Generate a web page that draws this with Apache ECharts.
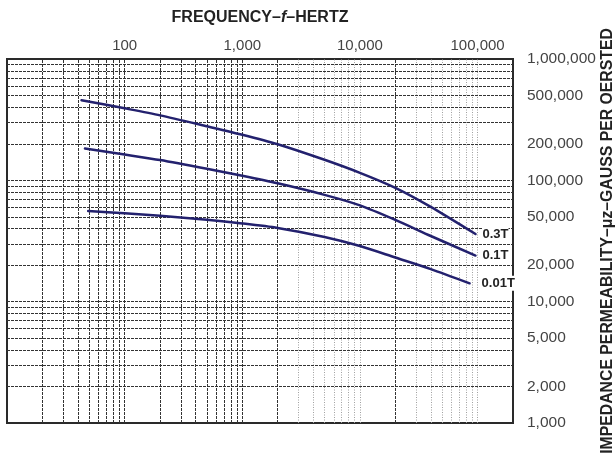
<!DOCTYPE html>
<html>
<head>
<meta charset="utf-8">
<script src="https://cdn.jsdelivr.net/npm/echarts@6/dist/echarts.min.js"></script>
<style>
html,body{margin:0;padding:0;background:#fff;}
#chart{width:615px;height:454px;}
</style>
</head>
<body>
<div id="chart"></div>
<script>
// ---- data (frequency in Hz, impedance permeability in gauss/oersted) ----
const freq03 = [43, 100, 200, 500, 1000, 2000, 5000, 10000, 20000, 40000, 96000];
const perm03 = [458000, 392000, 343000, 279000, 237700, 198400, 147700, 115300, 86700, 60400, 36100];
const freq01 = [46, 100, 200, 500, 1000, 2000, 5000, 10000, 20000, 40000, 96000];
const perm01 = [182800, 163100, 146900, 124500, 109000, 94500, 75900, 62150, 47170, 34780, 24000];
const freq001 = [49, 100, 200, 500, 1000, 2000, 5000, 10000, 20000, 40000, 85500];
const perm001 = [55760, 53570, 51090, 47340, 44120, 40490, 34130, 28750, 23100, 18560, 14170];
const seriesNames = ['0.3T', '0.1T', '0.01T'];

// tick labels
const xTickLabels = [100, 1000, 10000, 100000];
const yTickLabels = [1000, 2000, 5000, 10000, 20000, 50000, 100000, 200000, 500000, 1000000];

// grid lines
const gridXSolid = [20,30,40,50,60,70,80,90,100,200,300,400,500,600,700,800,900,1000,2000,20000];
const gridXDotted = [3000,4000,5000,6000,7000,8000,9000,10000,30000,40000,50000,60000,70000,80000,90000,100000];
const gridY = [2000,3000,4000,5000,6000,7000,8000,9000,10000,20000,30000,40000,50000,60000,70000,80000,90000,100000,200000,300000,400000,500000,600000,700000,800000,900000];

function fmt(v){ return String(Math.round(v)).replace(/\B(?=(\d{3})+(?!\d))/g, ','); }
function pairs(xs, ys){ return xs.map((x,i)=>[x, ys[i]]); }

const chart = echarts.init(document.getElementById('chart'), null, {renderer:'canvas'});

const darkGrid = {color:'#333', width:1, type:[3,1]};
const lightGrid = {color:'#a0a0a0', width:1, type:[1,1.5]};
const markData = []
  .concat(gridXSolid.map(v => ({xAxis: v, lineStyle: darkGrid})))
  .concat(gridXDotted.map(v => ({xAxis: v, lineStyle: lightGrid})))
  .concat(gridY.map(v => ({yAxis: v, lineStyle: darkGrid})));

const curveColor = '#23216e';
const FONT = 'Liberation Sans, Arial, sans-serif';
function curve(name, xs, ys, dist){
  return {
    name: name, type:'line', xAxisIndex:0, yAxisIndex:0,
    data: pairs(xs, ys), showSymbol:false, symbol:'none',
    smooth:0.25, z:5,
    lineStyle:{color:curveColor, width:2.5, join:'round', cap:'round'},
    endLabel:{show:true, formatter:name, distance:dist, color:'#222', fontSize:13, fontWeight:'bold',
      fontFamily:FONT, backgroundColor:'#fff', padding:[1,0,1,0]}
  };
}

const titleStyle = {fontSize:16, fontWeight:'bold', color:'#222', fontFamily:FONT};

chart.setOption({
  animation:false,
  backgroundColor:'#fff',
  grid:{left:7, right:102, top:59, bottom:31, show:true, borderColor:'#2a2a2a', borderWidth:2,
        backgroundColor:'transparent', containLabel:false, outerBoundsMode:'none'},
  xAxis:[{
    type:'log', min:10, max:200000, position:'top',
    name:'FREQUENCY–{i|f}–HERTZ', nameLocation:'middle', nameGap:33,
    nameTextStyle:Object.assign({}, titleStyle, {rich:{i:Object.assign({}, titleStyle, {fontStyle:'italic'})}}),
    axisLine:{show:false}, axisTick:{show:false}, splitLine:{show:false},
    axisLabel:{show:true, margin:6, fontSize:15, color:'#444', fontFamily:FONT,
      formatter:function(v){ return xTickLabels.indexOf(Math.round(v)) >= 0 ? fmt(v) : ''; }}
  }],
  yAxis:[{
    type:'log', min:1000, max:1000000, position:'right',
    axisLine:{show:false}, axisTick:{show:false}, splitLine:{show:false}, axisLabel:{show:false},
    name:'IMPEDANCE PERMEABILITY–μz–GAUSS PER OERSTED', nameLocation:'middle', nameRotate:90, nameGap:87,
    nameTextStyle:{fontSize:15.8, fontWeight:'bold', color:'#222', fontFamily:FONT}
  },{
    type:'value', min:3, max:6, position:'right',
    axisLine:{show:false}, axisTick:{show:false}, splitLine:{show:false},
    axisLabel:{show:true, margin:14, fontSize:15.5, color:'#444', fontFamily:FONT,
      customValues: yTickLabels.map(v => Math.log10(v)),
      formatter:function(v){ return fmt(Math.pow(10, v)); }}
  }],
  series:[
    {type:'line', xAxisIndex:0, yAxisIndex:0, data:[], z:1, silent:true,
     markLine:{silent:true, symbol:['none','none'], label:{show:false}, animation:false, data: markData}},
    curve(seriesNames[0], freq03, perm03, 7),
    curve(seriesNames[1], freq01, perm01, 7),
    curve(seriesNames[2], freq001, perm001, 12)
  ]
});
</script>
</body>
</html>
